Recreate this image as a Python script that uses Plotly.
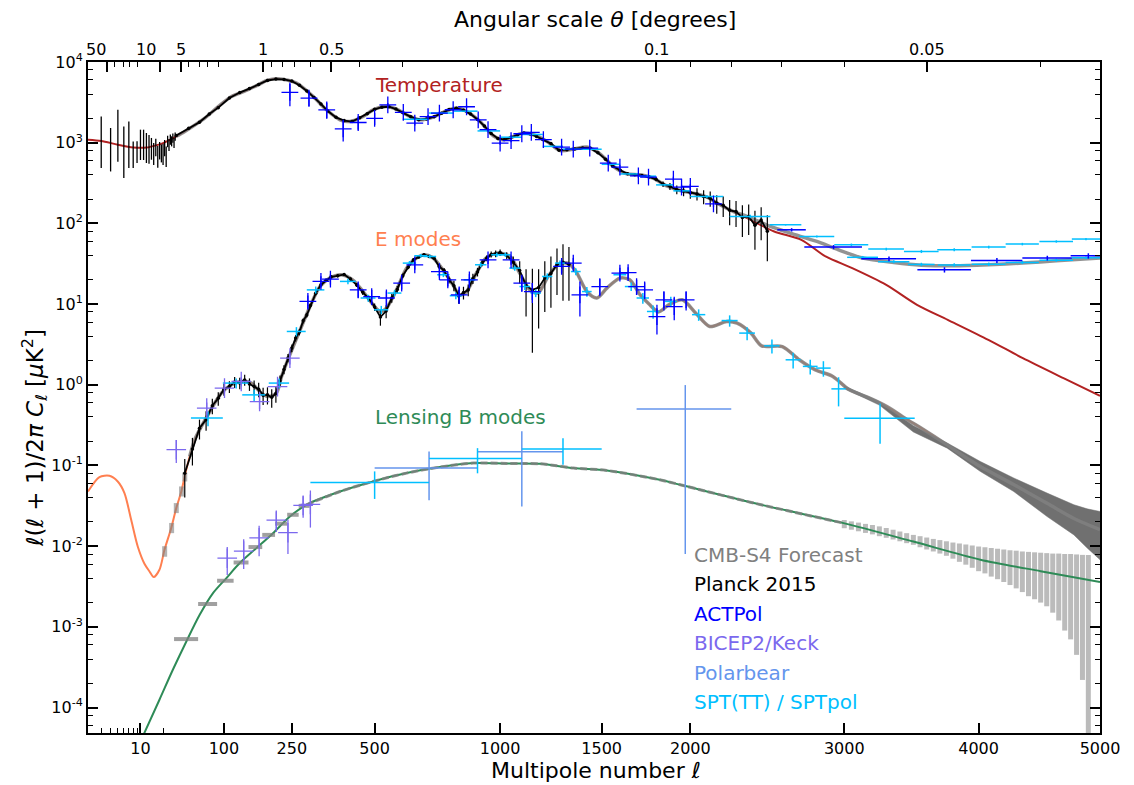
import numpy as np
import plotly.graph_objects as go

# ---------------- theory spectra ----------------
TT_ell = [2, 3, 5, 8, 12, 17, 20, 30, 40, 68, 90, 114, 140, 169, 190, 215, 240, 262, 308, 346,
          387, 418, 461, 495, 541, 577, 614, 664, 716, 769, 812, 853, 911, 969, 1014, 1061, 1107, 1155, 1221, 1285,
          1353, 1422, 1491, 1563, 1636, 1710, 1783, 1861, 1940, 2018, 2100, 2180, 2265, 2350, 2525, 2705, 2870, 3056, 3300, 3527,
          3760, 4077, 4354, 4690, 5000]
TT_D = [1090, 1050, 945, 875, 870, 940, 990, 1200, 1380, 2020, 2800, 3740, 4350, 5215, 5950, 6200, 5950, 5480, 3735, 2557,
        1923, 1832, 2113, 2557, 2811, 2608, 2218, 1923, 2076, 2484, 2684, 2437, 1832, 1219, 1086, 1194, 1315, 1253, 1035, 800,
        833, 882, 728, 507, 412, 400, 364, 292, 256, 237, 212, 170, 140, 116, 79.4, 62.6, 38.9, 27.9, 17.3, 9.8,
        6.39, 3.61, 2.14, 1.21, 0.73]

EE_ell = [2, 2.84, 3.86, 4.98, 6.12, 7.52, 9.2, 11.3, 13.2, 15, 17.9, 20.9, 25.7, 30, 35.8, 39.9, 46.3, 53.1, 62.8, 73,
          84, 95.4, 114, 133, 154, 176, 191, 211, 224, 243, 272, 299, 327, 356, 391, 427, 461, 495, 519, 541,
          577, 614, 651, 682, 716, 755, 796, 823, 853, 895, 937, 991, 1045, 1090, 1138, 1177, 1226, 1275, 1325, 1366,
          1422, 1474, 1528, 1598, 1652, 1710, 1760, 1814, 1873, 1952, 2033, 2117, 2222, 2287, 2375, 2443, 2578, 2691, 2800, 2920,
          3035, 3180, 3305, 3455, 3560, 3756, 3870, 4014, 4280, 4553, 4778, 5000]
EE_D = [0.0476, 0.0718, 0.0745, 0.0633, 0.0455, 0.0212, 0.0099, 0.00605, 0.00486, 0.00414, 0.0051, 0.00902, 0.0168, 0.0297, 0.0476, 0.0731, 0.129, 0.208, 0.304, 0.425,
        0.593, 0.789, 1.0, 1.10, 1.05, 0.789, 0.716, 0.789, 1.27, 2.24, 4.8, 9.33, 16.5, 21.0, 23.1, 20.0, 14.3, 9.8, 8.1, 8.9,
        15.0, 27.9, 37.2, 40.8, 37.2, 26.6, 17.3, 13.0, 14.3, 24.2, 37.2, 42.9, 38.9, 24.2, 15.0, 13.7, 22.0, 30.7, 32.2, 25.3,
        14.3, 11.9, 15.8, 21.0, 20.0, 13.0, 10.0, 8.0, 9.8, 11.3, 7.7, 5.28, 6.1, 5.8, 4.37, 3.04, 2.98, 2.04, 1.53, 1.27,
        0.867, 0.684, 0.538, 0.37, 0.29, 0.18, 0.135, 0.097, 0.058, 0.034, 0.022, 0.016]

BB_ell = [10, 17.9, 27, 42, 60.3, 81.1, 104.5, 130, 165, 203, 245, 289, 387, 495, 614, 743, 882, 1030, 1187, 1353,
          1527, 1821, 1940, 2400, 2995, 3500, 4014, 4500, 5000]
BB_D = [3.8e-5, 1.25e-4, 2.94e-4, 6.6e-4, 1.41e-3, 2.62e-3, 4.03e-3, 6.18e-3, 9.46e-3, 0.0145, 0.0233, 0.0326, 0.0476, 0.0634, 0.0805, 0.0955, 0.107, 0.106, 0.105, 0.0929,
        0.0868, 0.0665, 0.0577, 0.034, 0.0193, 0.0114, 6.8e-3, 4.9e-3, 3.6e-3]

# ---------------- CMB-S4 forecast ----------------
S4_TTfg_ell = [2350, 2500, 2630, 2810, 2960, 3130, 3355, 3560, 3810, 4080, 4350, 4630, 5000]
S4_TTfg_D = [122, 91.6, 75.8, 59.7, 47.1, 37.2, 32.8, 30.4, 29.8, 30.7, 32.2, 34.4, 37.2]
S4_EEband_ell = [3000, 3250, 3500, 3756, 4014, 4280, 4553, 4778, 4890, 5000]
S4_EEband_hi = [0.97, 0.62, 0.31, 0.19, 0.112, 0.070, 0.0455, 0.0326, 0.029, 0.0269]
S4_EEband_lo = [0.90, 0.56, 0.26, 0.164, 0.0843, 0.0476, 0.0233, 0.0138, 0.0095, 0.0068]
S4_EElow_ell = [21, 26, 30, 36, 40]
S4_EElow_lo = [0.0074, 0.0145, 0.0257, 0.0413, 0.0634]
S4_EElow_hi = [0.0100, 0.0194, 0.0342, 0.055, 0.0817]
S4_BBlow_lmin = [28, 58, 88, 118, 148, 178, 208, 238, 268]
S4_BBlow_lmax = [58, 88, 118, 148, 178, 208, 238, 268, 298]
S4_BBlow_D = [7.06e-4, 1.92e-3, 3.73e-3, 6.28e-3, 9.75e-3, 0.0138, 0.019, 0.0245, 0.0316]
S4_BBhi_ell = [3000, 3050, 3100, 3150, 3200, 3250, 3300, 3350, 3400, 3450, 3500, 3550, 3600, 3650, 3700, 3750, 3800, 3850, 3900, 3950,
               4000, 4050, 4100, 4150, 4200, 4250, 4300, 4350, 4400, 4450, 4500, 4550, 4600, 4650, 4700, 4750, 4800, 4850, 4900]
S4_BBhi_hi = [0.0211, 0.0203, 0.0196, 0.0189, 0.0183, 0.0176, 0.0168, 0.0160, 0.0152, 0.0145, 0.0138, 0.0133, 0.0128, 0.0123, 0.0119, 0.0115, 0.0111, 0.0108, 0.0105, 0.0102,
              0.0099, 0.0097, 0.0095, 0.0093, 0.0091, 0.0089, 0.0088, 0.0086, 0.0085, 0.0084, 0.0083, 0.0082, 0.0081, 0.0081, 0.0080, 0.0080, 0.0079, 0.0078, 0.0078]
S4_BBhi_lo = [0.0167, 0.0160, 0.0153, 0.0146, 0.0140, 0.0133, 0.0127, 0.0121, 0.0115, 0.0109, 0.0104, 0.0097, 0.0091, 0.0086, 0.0081, 0.0076, 0.0070, 0.0064, 0.0059, 0.0054,
              0.0049, 0.0046, 0.0042, 0.0039, 0.0036, 0.0033, 0.0030, 0.0027, 0.0024, 0.0022, 0.0020, 0.0018, 0.0015, 0.0012, 0.0009, 0.0007, 0.00045, 0.00022, 0.00001]

# ---------------- Planck 2015 ----------------
PL_TTlow_ell = [3, 4, 5, 6, 7, 8, 9, 10, 11, 12, 13, 14, 15, 16, 17, 18, 19, 20, 21, 22, 23, 24, 25, 26, 27, 28, 29]
PL_TTlow_D = [1300, 980, 1570, 976, 1160, 760, 800, 1030, 1030, 940, 900, 880, 760, 900, 700, 820, 760, 750, 880, 700, 1050, 950, 1100, 1050, 1150, 1000, 1200]
PL_TTlow_err = [815, 540, 990, 612, 674, 275, 240, 420, 420, 380, 350, 265, 230, 220, 210, 200, 190, 220, 200, 200, 170, 160, 160, 150, 150, 140, 140]
PL_TT_ell = [30, 45, 60, 75, 90, 110, 130, 150, 170, 190, 210, 230, 250, 270, 290, 310, 330, 350, 375, 400,
             425, 450, 475, 500, 525, 550, 575, 600, 630, 660, 690, 720, 750, 780, 810, 840, 870, 900, 930, 960,
             990, 1020, 1050, 1080, 1110, 1140, 1170, 1200, 1240, 1280, 1320, 1360, 1400, 1440, 1480, 1520, 1560, 1600, 1640, 1680,
             1720, 1760, 1800, 1840, 1880, 1920, 1960, 2000, 2040, 2080, 2120, 2160, 2200, 2240, 2280, 2320, 2360, 2400, 2440, 2480]
PL_TT_D = [1230, 1510, 1790, 2270, 2720, 3580, 4180, 4680, 5250, 5900, 6150, 6080, 5800, 5150, 4380, 3640, 3020, 2470, 2060, 1880,
           1830, 2040, 2290, 2590, 2750, 2790, 2610, 2360, 2090, 1920, 1970, 2100, 2320, 2570, 2680, 2520, 2260, 1940, 1610, 1300,
           1130, 1095, 1165, 1255, 1315, 1285, 1195, 1095, 975, 805, 818, 838, 862, 855, 748, 625, 512, 455, 412, 402,
           392, 378, 352, 306, 288, 262, 252, 240, 232, 215, 205, 178, 168, 145, 140, 118, 122, 95, 110, 80]
PL_TT_err = [50, 50, 50, 55, 55, 60, 60, 60, 60, 60, 60, 60, 55, 50, 45, 40, 35, 30, 28, 26,
             25, 25, 25, 25, 25, 25, 25, 25, 25, 25, 25, 25, 25, 25, 25, 25, 25, 25, 22, 20,
             18, 18, 18, 18, 18, 18, 18, 18, 18, 16, 16, 16, 16, 16, 16, 16, 15, 15, 15, 15,
             15, 18, 20, 24, 28, 32, 35, 38, 40, 42, 44, 46, 48, 50, 50, 50, 50, 48, 48, 46]
PL_EE_ell = [40, 50, 60, 70, 80, 90, 100, 110, 120, 130, 140, 150, 160, 170, 180, 190, 200, 210, 220, 230,
             240, 250, 260, 270, 280, 290, 300, 315, 330, 345, 360, 380, 400, 420, 440, 460, 480, 500, 520, 540,
             560, 580, 600, 620, 640, 660, 680, 700, 720, 740, 760, 780, 800, 820, 840, 860, 880, 900, 920, 940,
             960, 980, 1000, 1030, 1060, 1090, 1120, 1150, 1180, 1210, 1240, 1270, 1300, 1330]
PL_EE_D = [0.08, 0.16, 0.29, 0.37, 0.55, 0.68, 0.88, 0.95, 1.08, 1.05, 1.15, 1.02, 0.95, 0.88, 0.74, 0.75, 0.70, 0.78, 1.12, 1.55,
           2.15, 2.85, 3.8, 4.5, 6.2, 7.3, 9.6, 13.6, 17.4, 19.7, 21.8, 22.4, 23.3, 20.4, 17.3, 14.0, 11.8, 9.2, 6.9, 8.2,
           11.9, 15.2, 22.5, 28.6, 35.4, 38.2, 40.9, 39.0, 36.9, 29.2, 26.0, 20.0, 16.9, 12.6, 13.9, 15.0, 20.8, 25.0, 32.4, 37.0,
           41.3, 42.0, 43.5, 40, 33, 26, 17, 15, 16, 21, 24, 31, 33, 31]
PL_EE_err = [0.04, 0.06, 0.08, 0.1, 0.12, 0.13, 0.15, 0.16, 0.17, 0.17, 0.18, 0.18, 0.18, 0.18, 0.18, 0.18, 0.18, 0.18, 0.18, 0.2,
             0.25, 0.3, 0.35, 0.4, 0.45, 0.5, 0.6, 0.7, 0.8, 0.9, 1.0, 1.0, 1.0, 1.0, 1.0, 1.0, 1.0, 1.0, 1.5, 1.5,
             1.5, 1.5, 1.5, 1.5, 1.5, 1.5, 1.5, 1.5, 1.5, 2, 2, 2, 2.5, 2.5, 2.5, 2.5, 3, 3, 3, 3,
             3.5, 4, 4, 4, 6, 8, 10, 12.5, 11, 13, 15, 18, 22, 20]

# ---------------- ACTPol ----------------
ACT_TT_ell = [245, 296, 347, 397, 445, 500, 546, 602, 645, 696, 741, 797, 853, 903, 946, 1000, 1050, 1100, 1145, 1203,
              1293, 1352, 1437, 1535, 1598, 1700, 1757, 1900, 1948, 2000, 2140]
ACT_TT_D = [4200, 3560, 2550, 1480, 1780, 2000, 2950, 2370, 1750, 2110, 2330, 2560, 2790, 1920, 1450, 990, 1060, 1290, 1340, 1090,
            880, 833, 857, 559, 499, 389, 375, 354, 282, 287, 175]
ACT_TT_err = [1380, 750, 570, 445, 335, 340, 150, 120, 120, 100, 100, 100, 100, 80, 60, 50, 50, 50, 50, 45,
              40, 40, 40, 30, 30, 25, 25, 25, 20, 20, 15]
ACT_TThi_ell = [2640, 2925, 3320, 3735, 4145, 4555, 4900]
ACT_TThi_D = [83.3, 50.9, 36.4, 26.6, 34.7, 37.2, 39.6]
ACT_TThi_hw = [95, 200, 200, 205, 205, 205, 150]
ACT_TThi_err = [4, 3, 2.5, 2, 2.5, 2.5, 3]
ACT_EE_ell = [293, 330, 358, 445, 490, 541, 596, 645, 741, 775, 822, 865, 946, 1050, 1100, 1150, 1293, 1352, 1386, 1490,
              1598, 1643, 1690, 1735, 1805, 1845, 1905, 1975]
ACT_EE_D = [10.8, 19.1, 20.4, 15.0, 12.4, 11.9, 18.2, 30.7, 25.3, 20, 13, 20, 35.3, 35.3, 18.2, 14.3, 29.3, 32.2, 13.0, 16.5,
            24.2, 24.6, 16.5, 15.0, 7.0, 11.3, 9.3, 11.3]
ACT_EE_err = [2, 3, 3, 3, 2.5, 2.5, 3, 4, 4, 3.5, 3, 3.5, 4, 4.5, 4, 4, 5, 5, 6, 4,
              4, 4, 3.5, 3.5, 2.8, 3, 3, 3]

# ---------------- BICEP2/Keck ----------------
BK_EE_ell = [30, 71, 101, 133, 172, 214, 245]
BK_EE_D = [0.157, 0.514, 0.91, 1.10, 0.62, 0.95, 2.14]
BK_EE_err = [0.05, 0.09, 0.12, 0.14, 0.12, 0.15, 0.35]
BK_BB_ell = [106, 138, 171, 211, 240, 280, 300]
BK_BB_D = [0.0071, 0.0087, 0.0127, 0.021, 0.0147, 0.032, 0.033]
BK_BB_err = [0.0027, 0.0035, 0.0052, 0.006, 0.0067, 0.0095, 0.016]

# ---------------- Polarbear ----------------
PB_BB_ell = [700, 1100, 1970]
PB_BB_D = [0.093, 0.148, 0.50]
PB_BB_err = [0.056, 0.117, 0.492]
PB_BB_hw = [200, 200, 280]

# ---------------- SPT(TT) / SPTpol ----------------
SPT_TT_ell = [650, 750, 850, 950, 1050, 1150, 1250, 1350, 1450, 1550, 1650, 1750, 1850, 1950, 2100, 2370]
SPT_TT_D = [1950, 2330, 2460, 1400, 1170, 1265, 900, 832, 830, 540, 410, 385, 300, 253, 215, 122]
SPT_TT_err = [30, 35, 35, 25, 20, 20, 15, 15, 15, 10, 8, 8, 7, 7, 8, 6]
SPT_TT_hw = [50, 50, 50, 50, 50, 50, 50, 50, 50, 50, 50, 50, 50, 50, 100, 130]
SPT_TThi_ell = [2600, 2810, 3050, 3300, 3560, 3810, 4080, 4350, 4630, 4880]
SPT_TThi_D = [96, 68.8, 54.3, 48, 44.9, 47.1, 50.9, 55.4, 59.7, 64]
SPT_TThi_hw = [105, 120, 120, 130, 130, 130, 135, 135, 140, 120]
SPT_TThi2_ell = [3130, 3355, 3560, 3810, 4080, 4350, 4630, 4880]
SPT_TThi2_D = [38, 33.5, 31, 30.5, 31.2, 32.8, 35, 37.5]
SPT_TThi2_hw = [110, 115, 100, 125, 135, 135, 140, 120]
SPT_EE_ell = [73, 123, 160, 218, 262, 315, 412, 478, 523, 570, 625, 668, 703, 757, 808, 866, 914, 985, 1024, 1067,
              1114, 1166, 1222, 1285, 1365, 1422, 1598, 1660, 1725, 1783, 1885, 2050, 2240, 2350, 2510, 2650, 2765, 2855, 2960, 3255]
SPT_EE_D = [0.387, 1.05, 0.75, 1.05, 4.58, 15.0, 19.1, 11.9, 8.5, 13.7, 32.2, 39.7, 38.9, 23.1, 12.7, 20.0, 30.7, 40.8, 40.8, 27.9,
            16.5, 13.7, 22.0, 32.2, 25.3, 14.3, 23.1, 16.5, 11.9, 8.1, 10.8, 7.4, 6.25, 4.37, 3.04, 2.04, 1.69, 1.61, 0.89, 0.386]
SPT_EE_err = [0.08, 0.15, 0.12, 0.15, 0.6, 1.5, 1.5, 1.2, 1.0, 1.2, 2.0, 2.0, 2.0, 1.5, 1.2, 1.5, 2.0, 2.5, 2.5, 2.0,
              1.5, 1.5, 2.0, 2.5, 2.5, 2.0, 2.5, 2.0, 1.8, 1.5, 1.5, 1.2, 1.0, 0.8, 0.6, 0.45, 0.35, 0.35, 0.35, 0.2]
SPT_EE_hw = [25, 25, 25, 25, 25, 25, 25, 25, 25, 25, 25, 25, 25, 25, 25, 25, 25, 25, 25, 25,
             25, 25, 25, 25, 25, 25, 35, 35, 35, 35, 35, 40, 50, 50, 50, 50, 50, 50, 50, 255]
SPT_BB_ell = [500, 900, 1300]
SPT_BB_D = [0.0615, 0.122, 0.16]
SPT_BB_err = [0.023, 0.042, 0.058]
SPT_BB_hw = [200, 200, 200]

# ---------------- axes ticks ----------------
XTICK_ELL = [10, 100, 250, 500, 1000, 1500, 2000, 3000, 4000, 5000]
XMINOR_ELL = [3, 4, 5, 6, 7, 8, 9, 20]
THETA_MAJOR = [50, 10, 5, 1, 0.5, 0.1, 0.05]
THETA_LABELS = ["50", "10", "5", "1", "0.5", "0.1", "0.05"]
THETA_MINOR = [40, 30, 25, 20, 4, 3, 2.5, 2, 0.9, 0.8, 0.7, 0.6, 0.4, 0.3, 0.2, 0.09, 0.08, 0.07, 0.06, 0.04]

# ---------------- scale: log below l=30, l^0.6 above ----------------
L0 = 30.0
def u(l):
    l = np.asarray(l, dtype=float)
    return np.where(l < L0, 75.0 * np.log10(np.maximum(l, 1e-9) / L0), 5.84 * (np.abs(l) ** 0.6 - L0 ** 0.6))

FONT = "DejaVu Sans"
OFF = 8  # page margin of the html body
W, H = 1134 - OFF, 785 - OFF
ML, MT = 88 - OFF, 62 - OFF
PW, PH = 1012, 671
MR, MB = W - ML - PW, H - MT - PH

GRAY = "rgba(128,128,128,0.85)"
C_TT, C_EE, C_BB = "#b22222", "#ff7f50", "#2e8b57"
C_ACT, C_BK, C_PB, C_SPT = "#0000ff", "#7b68ee", "#6495ed", "#00bfff"

fig = go.Figure()

def add_line(x, y, color, width, dash=None, shape="spline"):
    fig.add_trace(go.Scatter(x=x, y=y, mode="lines",
                             line=dict(color=color, width=width, dash=dash, shape=shape, smoothing=0.8),
                             hoverinfo="skip", showlegend=False))

def add_vsegs(ell, lo, hi, color, width):
    xs, ys = [], []
    for l, a, b in zip(ell, lo, hi):
        x = float(u(l))
        xs += [x, x, None]
        ys += [a, b, None]
    fig.add_trace(go.Scatter(x=xs, y=ys, mode="lines", line=dict(color=color, width=width),
                             hoverinfo="skip", showlegend=False))

def add_hsegs(lmin, lmax, D, color, width):
    xs, ys = [], []
    for a, b, d in zip(lmin, lmax, D):
        xs += [float(u(a)), float(u(b)), None]
        ys += [d, d, None]
    fig.add_trace(go.Scatter(x=xs, y=ys, mode="lines", line=dict(color=color, width=width),
                             hoverinfo="skip", showlegend=False))

def add_points(ell, D, err, color, hw=None, size=0, width=1.5):
    ell = np.asarray(ell, float)
    D = np.asarray(D, float)
    err = np.asarray(err, float)
    ey = dict(type="data", symmetric=False, array=err, arrayminus=np.minimum(err, D * 0.999),
              thickness=width, width=0, color=color)
    ex = None
    if hw is not None:
        hw = np.asarray(hw, float)
        ex = dict(type="data", symmetric=False, array=u(ell + hw) - u(ell), arrayminus=u(ell) - u(ell - hw),
                  thickness=width, width=0, color=color)
    if size:
        marker = dict(symbol="cross-thin", size=size, color=color, line=dict(color=color, width=width))
    else:
        marker = dict(size=1, color="rgba(0,0,0,0)")
    fig.add_trace(go.Scatter(x=u(ell), y=D, mode="markers", marker=marker, error_y=ey, error_x=ex,
                             hoverinfo="skip", showlegend=False))

# 1. S4 BB high-l error bars (light gray stripes)
add_vsegs(S4_BBhi_ell, S4_BBhi_lo, S4_BBhi_hi, "rgba(170,170,170,0.8)", 5)

# 2. theory curves
add_line(u(TT_ell), TT_D, C_TT, 2)
add_line(u(EE_ell), EE_D, C_EE, 2)
add_line(u(BB_ell), BB_D, C_BB, 2)

# 3. S4 EE band at high l
bx = np.concatenate([u(S4_EEband_ell), u(S4_EEband_ell)[::-1]])
by = list(S4_EEband_hi) + list(S4_EEband_lo)[::-1]
fig.add_trace(go.Scatter(x=bx, y=by, mode="lines", fill="toself", fillcolor="rgb(112,112,112)",
                         line=dict(width=0.5, color="rgb(112,112,112)"), hoverinfo="skip", showlegend=False))

# 4. S4 forecast lines / bins
tt_e, tt_d = np.array(TT_ell, float), np.array(TT_D, float)
m = (tt_e >= 30) & (tt_e <= 2265)
add_line(np.concatenate([u(tt_e[m]), u(S4_TTfg_ell)]), np.concatenate([tt_d[m], S4_TTfg_D]), GRAY, 3.5)
ee_e, ee_d = np.array(EE_ell, float), np.array(EE_D, float)
m = ee_e >= 40
add_line(u(ee_e[m]), ee_d[m], GRAY, 3.5)
bb_e, bb_d = np.array(BB_ell, float), np.array(BB_D, float)
m = (bb_e >= 289) & (bb_e <= 2995)
add_line(u(bb_e[m]), bb_d[m], "rgba(128,128,128,0.8)", 3, dash="7px,3px")
add_hsegs(S4_BBlow_lmin, S4_BBlow_lmax, S4_BBlow_D, "rgba(128,128,128,0.75)", 4)
add_vsegs(S4_EElow_ell, S4_EElow_lo, S4_EElow_hi, "rgba(128,128,128,0.6)", 5)

# 5. Planck 2015
add_points(PL_TTlow_ell, PL_TTlow_D, PL_TTlow_err, "black", width=1.3)
for e, d, s in [(PL_TT_ell, PL_TT_D, PL_TT_err), (PL_EE_ell, PL_EE_D, PL_EE_err)]:
    e = np.asarray(e, float); d = np.asarray(d, float); s = np.asarray(s, float)
    fig.add_trace(go.Scatter(x=u(e), y=d, mode="lines+markers",
                             line=dict(color="black", width=1.8), marker=dict(color="black", size=3.5),
                             error_y=dict(type="data", symmetric=False, array=s, arrayminus=np.minimum(s, d * 0.999),
                                          thickness=1.2, width=0, color="black"),
                             hoverinfo="skip", showlegend=False))

# 6. other experiments
add_points(SPT_TT_ell, SPT_TT_D, SPT_TT_err, C_SPT, hw=SPT_TT_hw)
add_points(SPT_TThi_ell, SPT_TThi_D, [2] * len(SPT_TThi_D), C_SPT, hw=SPT_TThi_hw)
add_points(SPT_TThi2_ell, SPT_TThi2_D, [1.5] * len(SPT_TThi2_D), C_SPT, hw=SPT_TThi2_hw)
add_points(SPT_EE_ell, SPT_EE_D, SPT_EE_err, C_SPT, hw=SPT_EE_hw)
add_points(ACT_TT_ell, ACT_TT_D, ACT_TT_err, C_ACT, size=12, width=1.3)
add_points(ACT_TThi_ell, ACT_TThi_D, ACT_TThi_err, C_ACT, hw=ACT_TThi_hw)
add_points(ACT_EE_ell, ACT_EE_D, ACT_EE_err, C_ACT, size=12, width=1.3)
add_points(BK_EE_ell, BK_EE_D, BK_EE_err, C_BK, size=14, width=1.3)
add_points(BK_BB_ell, BK_BB_D, BK_BB_err, C_BK, size=14, width=1.3)
add_points(PB_BB_ell, PB_BB_D, PB_BB_err, C_PB, hw=PB_BB_hw)
add_points(SPT_BB_ell, SPT_BB_D, SPT_BB_err, C_SPT, hw=SPT_BB_hw)

# dummy trace for top axis
xr = [float(u(2)), float(u(5000))]
fig.add_trace(go.Scatter(x=xr, y=[1, 1], xaxis="x2", mode="markers", marker=dict(opacity=0),
                         hoverinfo="skip", showlegend=False))

# ---------------- text (positions given in window pixels) ----------------
def px_x(xp):
    return (xp - OFF - ML) / PW

def px_y(yp):
    return (MT + PH - (yp - OFF)) / PH

def txt(s, xp, yp, color, size, xanchor="left", angle=0):
    fig.add_annotation(x=px_x(xp), y=px_y(yp), xref="paper", yref="paper", text=s, showarrow=False,
                       font=dict(family=FONT, size=size, color=color), xanchor=xanchor, yanchor="middle",
                       textangle=angle)

txt("Temperature", 373, 85, C_TT, 20)
txt("E modes", 373, 239, C_EE, 20)
txt("Lensing B modes", 373, 417, C_BB, 20)
legend = [("CMB-S4 Forecast", "#808080"), ("Planck 2015", "black"), ("ACTPol", C_ACT),
          ("BICEP2/Keck", C_BK), ("Polarbear", C_PB), ("SPT(TT) / SPTpol", C_SPT)]
for i, (s, c) in enumerate(legend):
    txt(s, 692, 555 + 29.4 * i, c, 20)

txt("Multipole number <i>ℓ</i>", 596, 770, "black", 22, xanchor="center")
txt("Angular scale <i>θ</i> [degrees]", 595, 19, "black", 22, xanchor="center")
txt("<i>ℓ</i>(<i>ℓ</i> + 1)/2<i>π</i> <i>C<sub>ℓ</sub></i> [<i>μ</i>K<sup>2</sup>]", 34, 438, "black", 23,
    xanchor="center", angle=-90)

# top-axis labels
shifts = {"50": -10.7, "10": -14}
for th, lab in zip(THETA_MAJOR, THETA_LABELS):
    fig.add_annotation(x=float(u(180.0 / th)), y=px_y(49), xref="x", yref="paper", text=lab, showarrow=False,
                       xshift=shifts.get(lab, 0), font=dict(family=FONT, size=16, color="black"),
                       xanchor="center", yanchor="middle")

ax_common = dict(showgrid=False, zeroline=False, showline=True, linecolor="black", linewidth=2,
                 ticks="inside", ticklen=10, tickwidth=1.5, tickcolor="black",
                 tickfont=dict(family=FONT, size=16, color="black"))

fig.update_layout(
    width=W, height=H,
    margin=dict(l=ML, r=MR, t=MT, b=MB, autoexpand=False),
    paper_bgcolor="white", plot_bgcolor="white", showlegend=False,
    xaxis=dict(range=xr, tickmode="array", tickvals=list(u(XTICK_ELL)), ticktext=[str(v) for v in XTICK_ELL],
               minor=dict(tickmode="array", tickvals=list(u(XMINOR_ELL)), ticks="inside", ticklen=5,
                          tickwidth=1.2, tickcolor="black"),
               mirror=False, **ax_common),
    xaxis2=dict(range=xr, overlaying="x", side="top", anchor="y", tickmode="array",
                tickvals=list(u([180.0 / t for t in THETA_MAJOR])), showticklabels=False,
                minor=dict(tickmode="array", tickvals=list(u([180.0 / t for t in THETA_MINOR])), ticks="inside",
                           ticklen=5, tickwidth=1.2, tickcolor="black"),
                mirror=False, **ax_common),
    yaxis=dict(type="log", range=[-4.315, 4.0], tickmode="array",
               tickvals=[1e-4, 1e-3, 1e-2, 1e-1, 1, 10, 100, 1e3, 1e4],
               ticktext=["10<sup>-4</sup>", "10<sup>-3</sup>", "10<sup>-2</sup>", "10<sup>-1</sup>", "10<sup>0</sup>",
                         "10<sup>1</sup>", "10<sup>2</sup>", "10<sup>3</sup>", "10<sup>4</sup>"],
               minor=dict(tickmode="array",
                          tickvals=[m * 10.0 ** k for k in range(-5, 4) for m in (2, 4, 6, 8)],
                          ticks="inside", ticklen=5, tickwidth=1.2, tickcolor="black"),
               mirror="ticks", **ax_common),
)

fig.write_html("out.html")
